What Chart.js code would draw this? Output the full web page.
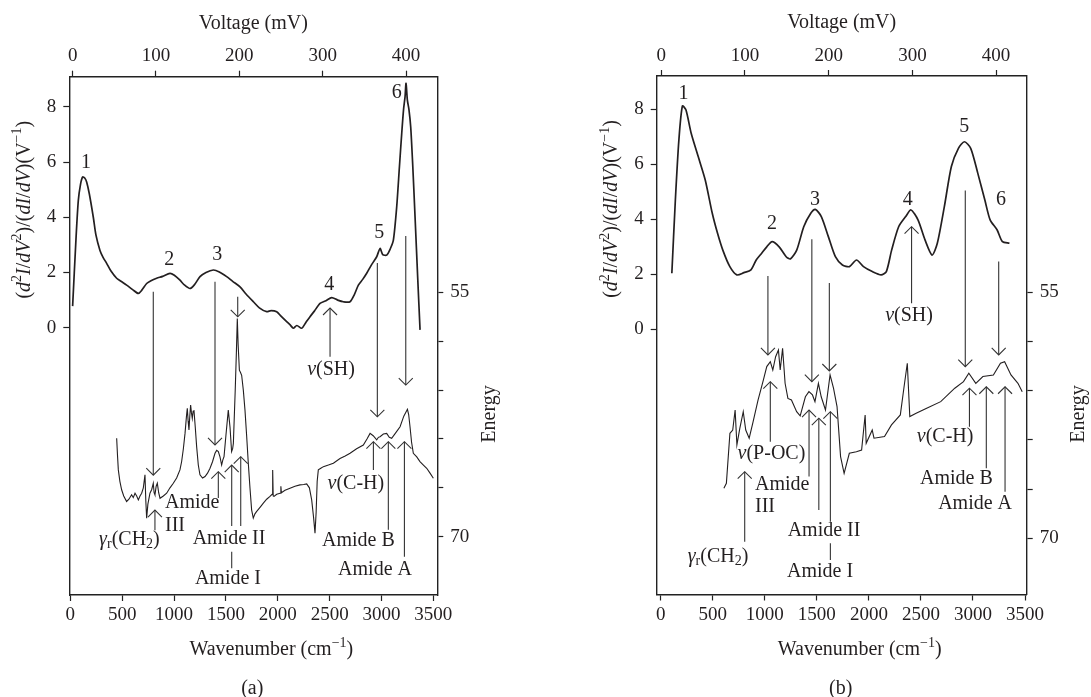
<!DOCTYPE html>
<html lang="en">
<head>
<meta charset="UTF-8" />
<title>Tunneling spectra and IR spectra</title>
<script src="https://cdn.jsdelivr.net/npm/chart.js"></script>
<style>
  body { margin: 0; background: #fff; }
  #wrap { position: relative; width: 1091px; height: 697px; }
  canvas { position: absolute; top: 0; }
</style>
</head>
<body>
<div id="wrap">
  <canvas id="chartA" width="545" height="697" style="left:0"></canvas>
  <canvas id="chartB" width="546" height="697" style="left:545px"></canvas>
</div>

<script>
// ---- tick labels ----
const wnTicks = [0, 500, 1000, 1500, 2000, 2500, 3000, 3500];
const voltTicks = [0, 100, 200, 300, 400];
const yTicks = [0, 2, 4, 6, 8];
const energyTicks = [55, 58, 61, 64, 67, 70];
const energyLabels = [55, 70];

// ---- panel (a): tunneling spectrum (voltage, mV -> d2I/dV2 / dI/dV) ----
const voltA = [0, 4, 6.8, 9.5, 12, 14.5, 16.8, 20, 24.8, 28, 32.8, 36.5, 40.8, 46, 52.8, 58, 64.8, 72, 78.8, 83,
  88.8, 94, 100.8, 108, 116.8, 122, 128.8, 134, 140.8, 146, 152.8, 160, 168.8, 176, 184.8, 192, 200.8, 208,
  216.8, 224, 232.8, 238, 244.8, 250, 256.8, 261, 264.8, 269, 274.8, 280, 284.8, 290, 296.8, 304, 310.8, 318,
  324.8, 332.8, 338, 342.8, 348, 352.8, 358, 364.8, 368.8, 372, 376.8, 381, 384.8, 388.8, 392, 394.8, 397,
  398.8, 400, 401.6, 403.5, 405.6, 408, 410.8, 414, 416.8];
const specA = [0.78, 3.2, 4.6, 5.2, 5.46, 5.42, 5.28, 4.85, 4.0, 3.35, 2.8, 2.55, 2.33, 2.05, 1.79, 1.68, 1.54, 1.38, 1.24, 1.36,
  1.6, 1.7, 1.79, 1.86, 1.97, 1.9, 1.72, 1.55, 1.42, 1.55, 1.85, 2.0, 2.09, 2.02, 1.85, 1.68, 1.48, 1.22,
  0.94, 0.72, 0.58, 0.62, 0.58, 0.42, 0.22, 0.1, -0.02, 0.08, -0.02, 0.2, 0.4, 0.6, 0.88, 0.98, 1.09, 1.0,
  0.94, 0.94, 1.2, 1.54, 1.75, 1.97, 2.25, 2.57, 2.87, 2.65, 2.63, 2.85, 3.17, 4.38, 5.8, 7.03, 7.9,
  8.36, 8.85, 8.24, 7.9, 7.27, 5.9, 4.02, 1.8, -0.08];

// ---- panel (a): IR spectrum (wavenumber, cm-1 -> energy axis) ----
const wnA = [447, 455, 463, 478, 495, 515, 543, 565, 591, 607, 624, 640, 656, 672, 688, 704, 720, 728, 736, 748,
  768, 785, 800, 808, 816, 828, 839, 852, 865, 897, 929, 961, 993, 1025, 1057, 1073, 1090, 1106, 1120, 1128,
  1136, 1144, 1152, 1160, 1168, 1176, 1184, 1192, 1205, 1218, 1234, 1250, 1275, 1299, 1323, 1347, 1371, 1395,
  1411, 1427, 1443, 1459, 1470, 1482, 1500, 1523, 1540, 1555, 1565, 1572, 1590, 1602, 1610, 1618, 1630, 1640,
  1652, 1668, 1684, 1700, 1716, 1732, 1748, 1764, 1780, 1797, 1829, 1861, 1893, 1925, 1945, 1951, 1956, 1964,
  1990, 2022, 2030, 2035, 2070, 2118, 2166, 2214, 2250, 2279, 2305, 2327, 2345, 2359, 2370, 2380, 2391, 2415,
  2440, 2488, 2536, 2600, 2650, 2697, 2760, 2825, 2860, 2890, 2920, 2954, 2970, 2986, 3018, 3050, 3075, 3098,
  3140, 3179, 3215, 3250, 3262, 3275, 3290, 3307, 3340, 3371, 3404, 3436, 3468, 3500];
const irA = [63.96, 65.0, 65.9, 66.6, 67.12, 67.5, 67.84, 67.7, 67.43, 67.6, 67.33, 67.5, 67.74, 67.5, 67.33, 67.0, 66.2, 67.8, 68.86, 68.0,
  67.33, 67.1, 66.72, 67.3, 67.43, 66.9, 66.72, 67.3, 67.64, 67.5, 67.33, 67.0, 66.72, 66.4, 65.9, 65.4, 64.6, 63.66, 62.6, 62.12,
  62.9, 63.45, 62.6, 61.92, 62.4, 62.74, 62.3, 62.23, 63.3, 64.47, 65.6, 66.2, 66.4, 66.31, 66.1, 65.8, 65.4, 64.88,
  64.7, 64.78, 65.1, 65.6, 65.3, 65.09, 63.8, 62.23, 63.3, 64.78, 64.6, 64.27, 61.0, 58.5, 56.6, 58.2, 59.78, 59.9,
  60.09, 61.0, 62.23, 63.8, 65.49, 67.0, 68.35, 68.86, 68.6, 68.45, 68.2, 67.94, 67.7, 67.53, 67.4, 65.9, 67.5, 67.53,
  67.4, 67.33, 66.9, 67.3, 67.15, 67.02, 66.9, 66.82, 66.8, 66.76, 67.0, 67.74, 68.8, 69.78, 68.5, 66.6, 65.9, 65.8,
  65.7, 65.6, 65.49, 65.2, 65.05, 64.88, 64.6, 64.37, 64.0, 63.66, 63.8, 64.06, 63.9, 63.86, 63.7, 63.66, 63.9, 63.96,
  63.6, 63.25, 62.6, 62.18, 62.5, 63.25, 64.2, 64.88, 65.1, 65.39, 65.6, 65.8, 66.1, 66.41];

// ---- panel (b): tunneling spectrum ----
const voltB = [12.6, 16.8, 21, 25.2, 29.4, 35.7, 44.1, 52.5, 60.9, 67.2, 73.5, 81.9, 90.3, 98.7, 107.1, 113.4, 119.7,
  126, 132.4, 140.8, 149.2, 154.2, 161.8, 170.2, 178.6, 184, 191.2, 199.6, 208, 216.4, 224.8, 233.2, 241.6,
  252.1, 262.6, 268.9, 275.2, 283.6, 292, 298.3, 306.7, 315.1, 323.5, 329.8, 338.2, 346.6, 355, 362.2, 369.7,
  378.2, 386.6, 392.9, 401.3, 407.6, 416];
const specB = [2.04, 4.7, 6.88, 8.12, 7.98, 7.13, 6.28, 5.43, 4.22, 3.49, 2.88, 2.28, 1.98, 2.06, 2.16, 2.52, 2.76,
  3.0, 3.19, 3.0, 2.64, 2.56, 2.88, 3.73, 4.22, 4.36, 4.1, 3.37, 2.64, 2.34, 2.28, 2.52, 2.28,
  2.1, 1.98, 2.1, 2.88, 3.73, 4.1, 4.34, 3.98, 3.25, 2.7, 3.13, 4.46, 5.92, 6.58, 6.82, 6.58,
  5.67, 4.7, 3.98, 3.61, 3.19, 3.13];

// ---- panel (b): IR spectrum ----
const wnB = [607, 631, 665, 692, 715, 732, 760, 793, 817, 850, 884, 935, 986, 1019, 1053, 1077, 1104, 1131, 1148,
  1171, 1195, 1222, 1256, 1306, 1340, 1390, 1424, 1458, 1482, 1515, 1542, 1583, 1627, 1660, 1694, 1728, 1762,
  1812, 1880, 1930, 1964, 1974, 2032, 2049, 2150, 2217, 2302, 2336, 2369, 2393, 2454, 2555, 2690, 2825, 2909,
  2960, 3027, 3095, 3196, 3264, 3304, 3365, 3432, 3473];
const irB = [66.95, 66.65, 63.6, 63.4, 62.18, 64.3, 63.3, 62.28, 63.4, 63.9, 62.99, 61.57, 60.35, 59.53, 59.23, 59.74, 58.93, 58.52, 59.74,
  58.42, 60.55, 61.47, 61.57, 62.28, 62.54, 61.37, 61.06, 61.26, 61.67, 60.55, 61.37, 62.18, 60.04, 60.85, 61.97, 65.02, 66.04,
  64.82, 64.72, 64.62, 62.48, 64.21, 63.4, 63.9, 63.8, 63.09, 62.48, 60.85, 59.33, 62.58, 62.38, 62.07, 61.67, 60.85, 60.45,
  59.94, 60.55, 60.14, 60.04, 59.33, 59.23, 60.04, 60.55, 61.06];

// ---- annotations: [wavenumber, energy start, energy end, arrow head] ----
const arrowsA = [
  [800, 54.96, 66.22, 'bottom'], [1395, 54.35, 64.37, 'bottom'], [1614, 55.27, 56.5, 'bottom'],
  [2504, 55.96, 58.95, 'top'], [2960, 53.2, 62.64, 'bottom'], [3234, 51.54, 60.69, 'bottom'],
  [816, 68.37, 69.6, 'top'], [1427, 66.01, 67.63, 'top'], [1556, 65.6, 69.35, 'top'],
  [1643, 65.09, 69.35, 'top'], [1556, 70.92, 71.94, 'none'], [2922, 64.17, 65.9, 'top'],
  [3066, 64.17, 69.58, 'top'], [3221, 64.17, 71.23, 'top']
];
const arrowsB = [
  [1030, 54.01, 58.82, 'bottom'], [1452, 51.77, 60.45, 'bottom'], [1620, 54.43, 59.8, 'bottom'],
  [2410, 51.0, 55.67, 'top'], [2926, 48.8, 59.54, 'bottom'], [3247, 53.13, 58.82, 'bottom'],
  [1053, 60.45, 64.11, 'top'], [807, 65.94, 70.21, 'top'], [1425, 62.18, 66.24, 'top'],
  [1519, 62.68, 68.27, 'top'], [1630, 62.28, 68.99, 'top'], [1630, 70.3, 71.32, 'none'],
  [2966, 60.85, 63.2, 'top'], [3128, 60.76, 65.73, 'top'], [3308, 60.76, 67.16, 'top']
];

// ---- annotation labels: [wavenumber, energy, text, align] ----
const labelsA = [
  [151, 47.06, '1'], [954, 53.02, '2'], [1417, 52.71, '3'], [2497, 54.55, '4'], [2979, 51.36, '5'], [3147, 42.77, '6'],
  [2514, 59.73, '*ν*(SH)'], [570, 70.16, '*γ*_{r}(CH_{2})'], [913, 67.92, 'Amide', 'left'], [913, 69.35, 'III', 'left'],
  [1530, 70.1, 'Amide II'], [1520, 72.56, 'Amide I'], [2753, 66.72, '*ν*(C-H)'], [2777, 70.27, 'Amide B'],
  [2938, 72.05, 'Amide A']
];
const labelsB = [
  [219, 42.87, '1'], [1069, 50.79, '2'], [1482, 49.33, '3'], [2373, 49.33, '4'], [2916, 44.9, '5'], [3270, 49.33, '6'],
  [2386, 56.45, '*ν*(SH)'], [1064, 64.86, '*ν*(P-OC)'], [551, 71.12, '*γ*_{r}(CH_{2})'],
  [906, 66.75, 'Amide', 'left'], [906, 68.07, 'III', 'left'], [1569, 69.55, 'Amide II'], [1531, 72.07, 'Amide I'],
  [2732, 63.84, '*ν*(C-H)'], [2840, 66.4, 'Amide B'], [3020, 67.87, 'Amide A']
];

const FONT = '"Liberation Serif", "Times New Roman", serif';
const INK = '#231f20';

// tiny rich text: *italic*, ^{sup}, _{sub}
function parseRich(str) {
  const parts = [];
  let italic = false, buf = '', i = 0;
  const flush = () => { if (buf) parts.push({ t: buf, it: italic, mode: 'n' }); buf = ''; };
  while (i < str.length) {
    const c = str[i];
    if (c === '*') { flush(); italic = !italic; i++; }
    else if ((c === '^' || c === '_') && str[i + 1] === '{') {
      flush();
      const end = str.indexOf('}', i);
      parts.push({ t: str.slice(i + 2, end), it: false, mode: c === '^' ? 'sup' : 'sub' });
      i = end + 1;
    } else { buf += c; i++; }
  }
  flush();
  return parts;
}

function drawRich(ctx, str, x, y, size, align) {
  const parts = parseRich(str);
  const fontOf = p => (p.it ? 'italic ' : '') + (p.mode === 'n' ? size : Math.round(size * 0.68)) + 'px ' + FONT;
  let w = 0;
  parts.forEach(p => { ctx.font = fontOf(p); p.w = ctx.measureText(p.t).width; w += p.w; });
  let cx = align === 'left' ? x : (align === 'right' ? x - w : x - w / 2);
  ctx.textAlign = 'left';
  ctx.textBaseline = 'middle';
  parts.forEach(p => {
    ctx.font = fontOf(p);
    const dy = p.mode === 'sup' ? -size * 0.33 : (p.mode === 'sub' ? size * 0.24 : 0);
    ctx.fillText(p.t, cx, y + dy);
    cx += p.w;
  });
}

function drawArrow(ctx, x, ya, yb, head) {
  const y1 = Math.min(ya, yb), y2 = Math.max(ya, yb);
  ctx.beginPath(); ctx.moveTo(x, y1); ctx.lineTo(x, y2); ctx.stroke();
  if (head === 'none') return;
  const hy = head === 'top' ? y1 : y2;
  const d = head === 'top' ? 7 : -7;
  ctx.beginPath();
  ctx.moveTo(x - 7, hy + d); ctx.lineTo(x, hy); ctx.lineTo(x + 7, hy + d);
  ctx.stroke();
}

const extras = {
  id: 'extras',
  afterDraw(chart, args, opts) {
    const { ctx, chartArea: ca, scales } = chart;
    const xs = scales.xW, ys = scales.yE;
    ctx.save();
    ctx.strokeStyle = '#333';
    ctx.lineWidth = 1.1;
    opts.arrows.forEach(a => drawArrow(ctx, xs.getPixelForValue(a[0]), ys.getPixelForValue(a[1]), ys.getPixelForValue(a[2]), a[3]));
    ctx.fillStyle = INK;
    opts.labels.forEach(l => drawRich(ctx, l[2], xs.getPixelForValue(l[0]), ys.getPixelForValue(l[1]), 20, l[3] || 'center'));

    const cx = (ca.left + ca.right) / 2;
    drawRich(ctx, 'Voltage (mV)', cx, ca.top - 53, 20);
    drawRich(ctx, 'Wavenumber (cm^{−1})', cx + 18, ca.bottom + 55, 20);
    drawRich(ctx, opts.caption, cx - 1, ca.bottom + 94, 20);

    ctx.save();
    ctx.translate(ca.left - 45, ca.top + 133);
    ctx.rotate(-Math.PI / 2);
    drawRich(ctx, '(*d*^{2}*I*/*dV*^{2})/(*dI*/*dV*)(V^{−1})', 0, 0, 20);
    ctx.restore();

    ctx.save();
    ctx.translate(ca.right + 52, 414);
    ctx.rotate(-Math.PI / 2);
    drawRich(ctx, 'Energy', 0, 0, 20);
    ctx.restore();
    ctx.restore();
  }
};

function axis(position, range, ticks, fit, labelFn, extra) {
  return Object.assign({
    type: 'linear',
    position,
    min: range[0],
    max: range[1],
    afterBuildTicks: s => { s.ticks = ticks.map(v => ({ value: v })); },
    afterFit: fit,
    grid: { drawOnChartArea: false, drawTicks: true, tickLength: 6, color: '#222', tickWidth: 1.2 },
    border: { display: true, color: '#222', width: 1.4 },
    ticks: {
      autoSkip: false, maxRotation: 0, color: INK,
      padding: (position === 'left' || position === 'right') ? 7 : 3,
      font: { family: FONT, size: 19 },
      callback: labelFn || (v => String(v))
    }
  }, extra || {});
}

function makePanel(id, p) {
  const L = p.box;
  new Chart(document.getElementById(id), {
    type: 'scatter',
    data: {
      datasets: [
        {
          data: p.volt.map((v, i) => ({ x: v, y: p.spec[i] })),
          xAxisID: 'xV', yAxisID: 'yL', showLine: true,
          borderColor: INK, borderWidth: 1.7, pointRadius: 0, tension: 0.25
        },
        {
          data: p.wn.map((v, i) => ({ x: v, y: p.ir[i] })),
          xAxisID: 'xW', yAxisID: 'yE', showLine: true,
          borderColor: INK, borderWidth: 1.1, pointRadius: 0, tension: 0
        }
      ]
    },
    options: {
      responsive: false,
      animation: false,
      devicePixelRatio: 1,
      layout: { padding: 0 },
      plugins: {
        legend: { display: false },
        tooltip: { enabled: false },
        extras: { arrows: p.arrows, labels: p.labels, caption: p.caption }
      },
      scales: {
        xW: axis('bottom', p.wnRange, wnTicks, s => { s.height = L.h - L.bottom; }),
        xV: axis('top', p.voltRange, voltTicks, s => { s.height = L.top; }),
        yL: axis('left', p.yRange, yTicks, s => { s.width = L.left; }),
        yE: axis('right', p.eRange, energyTicks, s => { s.width = L.w - L.right; },
          v => (energyLabels.includes(v) ? String(v) : ''), { reverse: true })
      }
    },
    plugins: [extras]
  });
}

makePanel('chartA', {
  box: { left: 69.3, right: 437.3, top: 76.7, bottom: 595, w: 545, h: 697 },
  volt: voltA, spec: specA, wn: wnA, ir: irA,
  wnRange: [-9.6, 3538], voltRange: [-4.0, 437.5], yRange: [-9.68, 9.09], eRange: [41.76, 73.58],
  arrows: arrowsA, labels: labelsA, caption: '(a)'
});

makePanel('chartB', {
  box: { left: 111.7, right: 481.7, top: 76, bottom: 594.5, w: 546, h: 697 },
  volt: voltB, spec: specB, wn: wnB, ir: irB,
  wnRange: [-38.4, 3516], voltRange: [-5.5, 436.6], yRange: [-9.64, 9.21], eRange: [41.81, 73.43],
  arrows: arrowsB, labels: labelsB, caption: '(b)'
});
</script>
</body>
</html>
